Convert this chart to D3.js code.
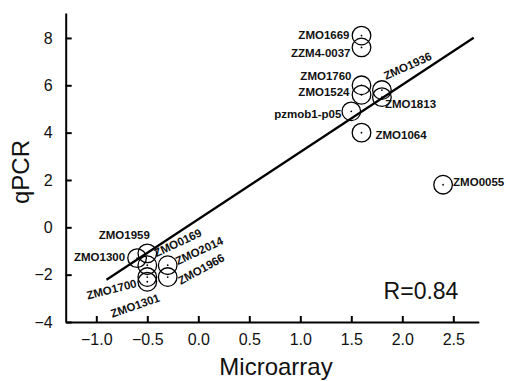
<!DOCTYPE html>
<html>
<head>
<meta charset="utf-8">
<script src="https://cdn.jsdelivr.net/npm/d3@7"></script>
<style>
  html, body { margin: 0; padding: 0; background: #fff; }
  svg { display: block; font-family: Arial, "Liberation Sans", sans-serif; }
  .axis path, .axis line { stroke: #000; stroke-width: 2; }
  .tick text { font-size: 16px; fill: #111; }
  .pt-label { font-size: 11.5px; font-weight: bold; fill: #111; }
</style>
</head>
<body>
<svg id="chart" width="506" height="381"></svg>
<script>
"use strict";

// ── Data ───────────────────────────────────────────────────────────────────
const genes = [
  "ZMO1669", "ZZM4-0037", "ZMO1760", "ZMO1524", "ZMO1936", "ZMO1813",
  "pzmob1-p05", "ZMO1064", "ZMO0055",
  "ZMO1959", "ZMO1300", "ZMO0169", "ZMO2014", "ZMO1700", "ZMO1966", "ZMO1301"
];
const microarray = [1.6, 1.6, 1.6, 1.6, 1.8, 1.8, 1.5, 1.6, 2.4,
                    -0.5, -0.6, -0.5, -0.3, -0.5, -0.3, -0.5];
const qpcr = [8.1, 7.6, 6.0, 5.6, 5.8, 5.5, 4.9, 4.0, 1.8,
              -1.1, -1.3, -1.6, -1.6, -2.1, -2.1, -2.3];

const xTicks = [-1.0, -0.5, 0.0, 0.5, 1.0, 1.5, 2.0, 2.5];
const yTicks = [-4, -2, 0, 2, 4, 6, 8];

// linear fit shown on the chart
const fitSlope = 2.84;
const fitIntercept = 0.34;
const fitRange = [-0.9, 2.7];
const rLabel = "R=0.84";

// label placement: [dx, dy, anchor, angle]
const labelLayout = [
  [-12, 3, "end", 0], [-11, 10, "end", 0], [-10, -5, "end", 0], [-12, 1, "end", 0],
  [4, -10, "start", -24], [3, 11, "start", 0],
  [-10, 7, "end", 0], [14, 6, "start", 0], [10, 1, "start", 0],
  [-23, -14, "middle", 0], [-12, 3, "end", 0], [9, -8, "start", -25],
  [10, 0, "start", -25], [-10, 10, "end", -14], [13, 8, "start", -29], [-35, 36, "start", -19]
];

// ── Chart ──────────────────────────────────────────────────────────────────
const svg = d3.select("#chart");

const x = d3.scaleLinear().domain([-1.3, 2.75]).range([65.7, 478.8]);
const y = d3.scaleLinear().domain([-4, 9.05]).range([322, 13.1]);

const xAxis = svg.append("g")
  .attr("class", "axis")
  .attr("transform", `translate(0, ${y(-4)})`)
  .call(d3.axisBottom(x).tickValues(xTicks).tickFormat(d3.format(".1f"))
    .tickSizeInner(-6).tickSizeOuter(0).tickPadding(12));

xAxis.selectAll(".tick text").attr("dy", "0.71em");

svg.append("g")
  .attr("class", "axis")
  .attr("transform", `translate(${x(-1.3)}, 0)`)
  .call(d3.axisLeft(y).tickValues(yTicks).tickFormat(d3.format("d"))
    .tickSizeInner(-6).tickSizeOuter(0).tickPadding(13));

svg.selectAll(".axis .domain").attr("stroke-width", 2.2);

// axis titles
svg.append("text")
  .attr("x", 276).attr("y", 375)
  .attr("text-anchor", "middle")
  .attr("font-size", 24).attr("fill", "#111")
  .text("Microarray");

svg.append("text")
  .attr("transform", `translate(29, 172) rotate(-90)`)
  .attr("text-anchor", "middle")
  .attr("font-size", 24).attr("fill", "#111")
  .text("qPCR");

svg.append("text")
  .attr("x", 421).attr("y", 299)
  .attr("text-anchor", "middle")
  .attr("font-size", 23).attr("fill", "#111")
  .text(rLabel);

// regression line
svg.append("line")
  .attr("x1", x(fitRange[0])).attr("y1", y(fitSlope * fitRange[0] + fitIntercept))
  .attr("x2", x(fitRange[1])).attr("y2", y(fitSlope * fitRange[1] + fitIntercept))
  .attr("stroke", "#000").attr("stroke-width", 2.2);

// points
const pts = genes.map((g, i) => ({ gene: g, mx: microarray[i], q: qpcr[i], lay: labelLayout[i] }));

const pg = svg.append("g").selectAll("g")
  .data(pts)
  .enter().append("g")
  .attr("transform", d => `translate(${x(d.mx)}, ${y(d.q)})`);

pg.append("circle")
  .attr("r", 9.3)
  .attr("fill", "none")
  .attr("stroke", "#000")
  .attr("stroke-width", 1.3);

pg.append("circle")
  .attr("r", 0.9)
  .attr("fill", "#000");

pg.append("text")
  .attr("class", "pt-label")
  .attr("text-anchor", d => d.lay[2])
  .attr("transform", d => `translate(${d.lay[0]}, ${d.lay[1]}) rotate(${d.lay[3]})`)
  .text(d => d.gene);
</script>
</body>
</html>
